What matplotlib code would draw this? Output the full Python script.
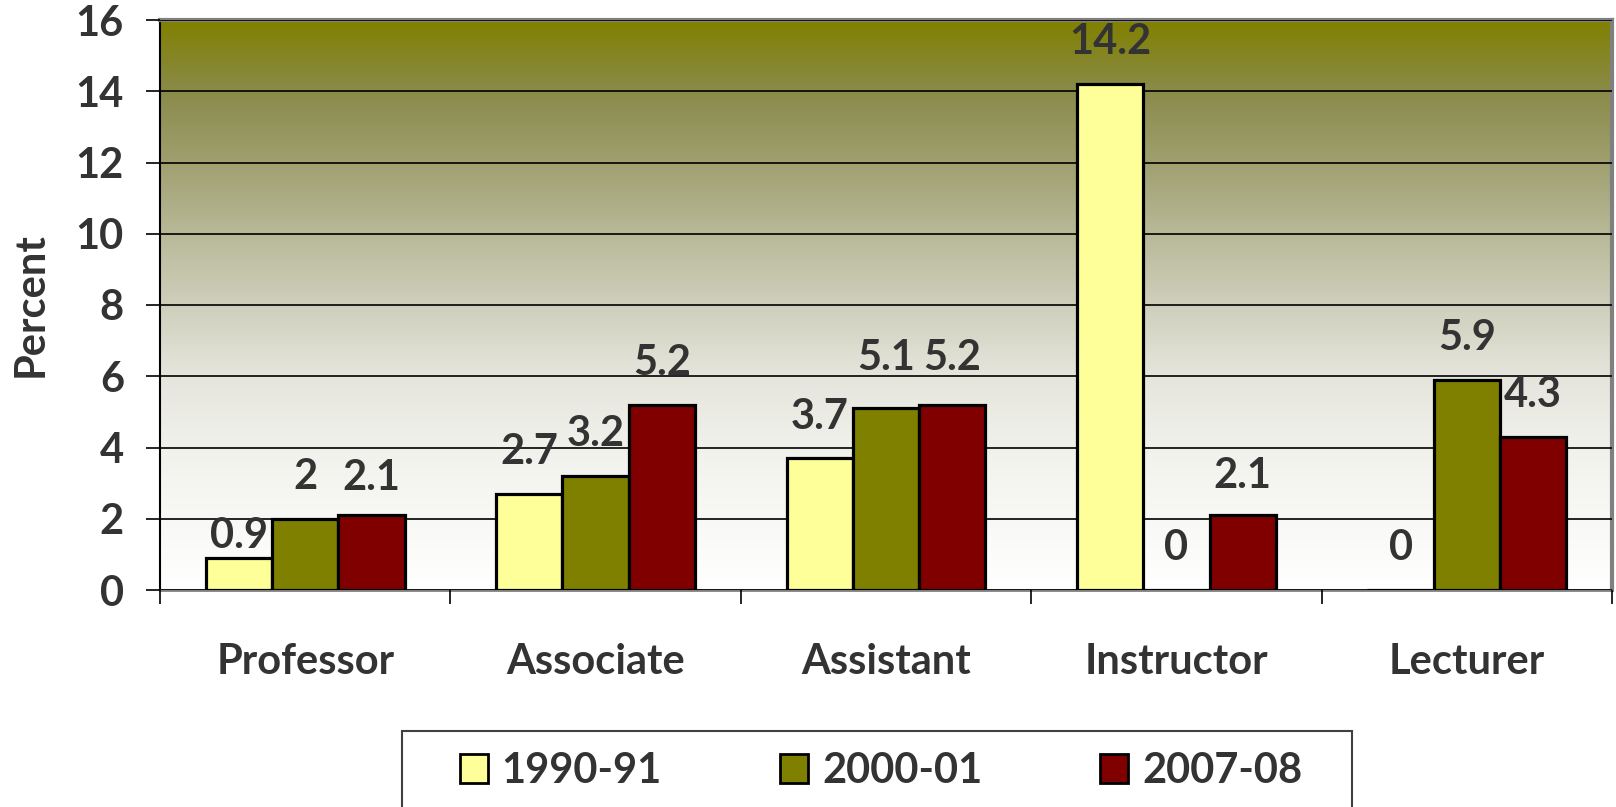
import numpy as np
import matplotlib.pyplot as plt
from matplotlib.colors import LinearSegmentedColormap
from matplotlib.patches import Rectangle, Patch

plt.rcParams['font.family'] = ['Lato', 'DejaVu Sans']
plt.rcParams['font.weight'] = 'bold'

categories = ["Professor", "Associate", "Assistant", "Instructor", "Lecturer"]
years = ["1990-91", "2000-01", "2007-08"]
vals_1990 = [0.9, 2.7, 3.7, 14.2, 0]
vals_2000 = [2, 3.2, 5.1, 0, 5.9]
vals_2007 = [2.1, 5.2, 5.2, 2.1, 4.3]
yticks = [0, 2, 4, 6, 8, 10, 12, 14, 16]

series = [vals_1990, vals_2000, vals_2007]
colors = ["#FFFF99", "#808000", "#800000"]
# small vertical nudges (points) for labels that sit off the common offset
nudge = [[-14, 0, 0, 0, 0],
         [0, 0, 6, 0, 0],
         [-3, 0, 4, -2, 0]]

txt = "#333333"
fs = 30

fig = plt.figure(figsize=(16.16, 8.07), dpi=100)
ax = fig.add_axes([160 / 1616, 1 - 590 / 807, 1452 / 1616, 570 / 807])

# gradient background: olive at top fading to white at the bottom
stops = [(0.0, (255, 255, 255)), (0.25, (241, 241, 236)), (0.375, (229, 229, 220)),
         (0.5, (207, 207, 188)), (0.625, (184, 185, 152)), (0.75, (160, 160, 112)),
         (0.875, (138, 139, 74)), (1.0, (128, 128, 0))]
cmap = LinearSegmentedColormap.from_list(
    "bg", [(p, tuple(c / 255 for c in rgb)) for p, rgb in stops])
grad = np.linspace(0, 1, 256).reshape(-1, 1)
ax.imshow(grad, cmap=cmap, origin="lower", aspect="auto",
          extent=[-0.5, 4.5, 0, 16], zorder=0)

x = np.arange(len(categories))
w = 0.228
for j, (vals, c) in enumerate(zip(series, colors)):
    xs = x + (j - 1) * w
    ax.bar(xs, vals, width=w, color=c, edgecolor="black", linewidth=2.3,
           label=years[j], zorder=3)
    for k, (xi, v) in enumerate(zip(xs, vals)):
        ax.annotate(f"{v:g}", xy=(xi, v), xytext=(0, 30 + nudge[j][k]),
                    textcoords="offset points", ha="center", va="center",
                    fontsize=fs, fontweight="bold", color=txt, zorder=4)

ax.set_xlim(-0.5, 4.5)
ax.set_ylim(0, 16)
ax.set_yticks(yticks)
ax.grid(axis="y", color="black", linewidth=1.2, zorder=1)
ax.set_axisbelow(False)
for gl in ax.get_ygridlines():
    gl.set_zorder(1)

# category boundaries carry the tick marks, names sit at the centres
ax.set_xticks(np.arange(-0.5, 5, 1))
ax.set_xticklabels([])
ax.set_xticks(x, minor=True)
ax.set_xticklabels(categories, minor=True)
ax.tick_params(axis="x", which="major", length=10, width=1.2, color="black", direction="out")
ax.tick_params(axis="x", which="minor", length=0, pad=38, labelsize=fs, labelcolor=txt)
ax.tick_params(axis="y", length=10, width=1.2, color="black", pad=16,
               labelsize=fs, labelcolor=txt)
for lab in ax.get_yticklabels() + ax.get_xticklabels(minor=True):
    lab.set_fontweight("bold")

ax.spines["left"].set_color("black")
ax.spines["left"].set_linewidth(1.5)
ax.spines["bottom"].set_color("#808080")
ax.spines["bottom"].set_linewidth(2)
for s in ["top", "right"]:
    ax.spines[s].set_color("#808080")
    ax.spines[s].set_linewidth(3)

ax.set_ylabel("Percent", fontsize=fs, fontweight="bold", color=txt, va="center")
ax.yaxis.set_label_coords(-0.0888, 0.5)

# legend box runs off the bottom edge of the picture
fig.add_artist(Rectangle((402 / 1616, -0.2), 950 / 1616, 0.2 + 1 - 731 / 807,
                         transform=fig.transFigure, facecolor="white",
                         edgecolor="#404040", linewidth=1.5, zorder=5))
handles = [Patch(facecolor=c, edgecolor="black", linewidth=2) for c in colors]
leg = fig.legend(handles, years, loc="center", bbox_to_anchor=(881 / 1616, 1 - 771 / 807),
                 ncol=3, frameon=False, handlelength=0.67, handleheight=0.67,
                 handletextpad=0.34, columnspacing=2.83, labelcolor=txt,
                 prop={"weight": "bold", "size": fs})
leg.set_zorder(6)

fig.savefig("out.png", dpi=100)
